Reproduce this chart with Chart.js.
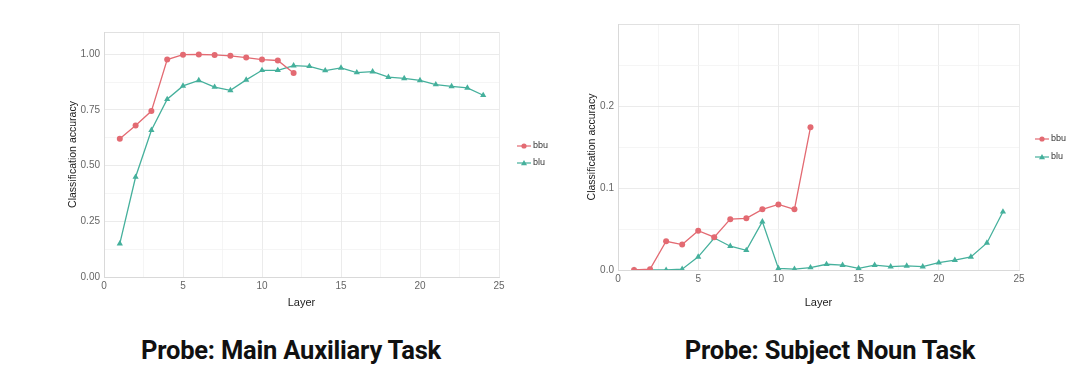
<!DOCTYPE html>
<html>
<head>
<meta charset="utf-8">
<script src="https://cdn.jsdelivr.net/npm/chart.js@4"></script>
<style>
  body { margin: 0; background: #fff; width: 1080px; height: 381px; position: relative; overflow: hidden; }
  canvas { position: absolute; top: 0; }
  .title { position: absolute; top: 335px; font: bold 25.5px/30px Roboto, "Liberation Sans", sans-serif; color: #111; white-space: nowrap; transform: translateX(-50%); letter-spacing: -0.2px; }
</style>
</head>
<body>
<div id="left" style="position:absolute;left:67px;top:0;width:493px;height:310px"><canvas id="chartA"></canvas></div>
<div id="right" style="position:absolute;left:586px;top:0;width:494px;height:310px"><canvas id="chartB"></canvas></div>
<div class="title" style="left:291px">Probe: Main Auxiliary Task</div>
<div class="title" style="left:830px">Probe: Subject Noun Task</div>
<script>
const layers = [1, 2, 3, 4, 5, 6, 7, 8, 9, 10, 11, 12, 13, 14, 15, 16, 17, 18, 19, 20, 21, 22, 23, 24];
const seriesNames = ["bbu", "blu"];
const colors = ["#e36a72", "#45b09c"];

// Main auxiliary task
const auxBbu = [0.621, 0.680, 0.745, 0.976, 0.998, 0.999, 0.997, 0.993, 0.985, 0.976, 0.972, 0.916];
const auxBlu = [0.150, 0.449, 0.659, 0.798, 0.858, 0.883, 0.853, 0.838, 0.885, 0.928, 0.928, 0.949,
                0.946, 0.927, 0.939, 0.918, 0.922, 0.897, 0.892, 0.883, 0.864, 0.856, 0.849, 0.816];

// Subject noun task
const nounBbu = [0.000, 0.001, 0.035, 0.031, 0.048, 0.040, 0.062, 0.063, 0.074, 0.080, 0.074, 0.174];
const nounBlu = [0.000, 0.000, 0.000, 0.001, 0.016, 0.039, 0.029, 0.024, 0.059, 0.002, 0.001, 0.003,
                 0.007, 0.006, 0.002, 0.006, 0.004, 0.005, 0.004, 0.009, 0.012, 0.016, 0.033, 0.071];

const xTicks = [0, 5, 10, 15, 20, 25];
const auxYTicks = [0, 0.25, 0.5, 0.75, 1.0];
const nounYTicks = [0, 0.1, 0.2];

const tickFont = { family: "'Liberation Sans', Arial, sans-serif", size: 10 };
const near = (v, list) => list.some(t => Math.abs(t - v) < 1e-6);

function pts(values) {
  return values.map((v, i) => ({ x: layers[i], y: v }));
}

const legendPlugin = {
  id: "sideLegend",
  afterDraw(chart, args, opts) {
    const ctx = chart.ctx;
    ctx.save();
    seriesNames.forEach((name, i) => {
      const y = opts.y + i * opts.gap;
      const x = opts.x;
      ctx.strokeStyle = colors[i];
      ctx.fillStyle = colors[i];
      ctx.lineWidth = 1.2;
      ctx.beginPath();
      ctx.moveTo(x, y);
      ctx.lineTo(x + 14, y);
      ctx.stroke();
      ctx.beginPath();
      if (i === 0) {
        ctx.arc(x + 7, y, 2.6, 0, Math.PI * 2);
      } else {
        ctx.moveTo(x + 7, y - 3);
        ctx.lineTo(x + 10, y + 2.2);
        ctx.lineTo(x + 4, y + 2.2);
        ctx.closePath();
      }
      ctx.fill();
      ctx.fillStyle = "#333";
      ctx.font = "9px 'Liberation Sans', Arial, sans-serif";
      ctx.textBaseline = "middle";
      ctx.fillText(name, x + 16, y);
    });
    ctx.restore();
  }
};

function makeChart(id, bbu, blu, yMax, yStep, yLabels, pad, yWidth, xHeight, legendPos) {
  const yFmt = yLabels === auxYTicks ? v => v.toFixed(2) : v => v.toFixed(1);
  new Chart(document.getElementById(id), {
    type: "line",
    data: {
      datasets: [
        {
          label: seriesNames[0], data: pts(bbu), borderColor: colors[0], backgroundColor: colors[0],
          borderWidth: 1.3, pointStyle: "circle", pointRadius: 3, pointBorderWidth: 0
        },
        {
          label: seriesNames[1], data: pts(blu), borderColor: colors[1], backgroundColor: colors[1],
          borderWidth: 1.3, pointStyle: "triangle", pointRadius: 3.6, pointBorderWidth: 0
        }
      ]
    },
    options: {
      responsive: true,
      maintainAspectRatio: false,
      animation: false,
      layout: { padding: { top: pad.top, right: pad.right, left: 0, bottom: 0 } },
      plugins: {
        legend: { display: false },
        tooltip: { enabled: false },
        sideLegend: legendPos
      },
      scales: {
        x: {
          type: "linear", min: 0, max: 25,
          border: { display: true, color: "#d9d9d9" },
          grid: {
            color: c => near(c.tick.value, xTicks) ? "#e6e6e6" : "#f3f3f3",
            lineWidth: 0.8, drawTicks: false
          },
          ticks: {
            stepSize: 2.5, autoSkip: false, maxRotation: 0, padding: 3,
            color: "#666", font: tickFont,
            callback: v => near(v, xTicks) ? String(v) : ""
          },
          title: { display: true, text: "Layer", color: "#222", font: { family: "'Liberation Sans', Arial, sans-serif", size: 11 }, padding: { top: 0, bottom: 0 } },
          afterFit: s => { s.height = xHeight; }
        },
        y: {
          type: "linear", min: 0, max: yMax,
          border: { display: true, color: "#d9d9d9" },
          grid: {
            color: c => near(c.tick.value, yLabels) ? "#e6e6e6" : (Math.abs(c.tick.value - yMax) < 1e-6 ? "#d9d9d9" : "#f3f3f3"),
            lineWidth: 0.8, drawTicks: false
          },
          ticks: {
            stepSize: yStep, autoSkip: false, padding: 4,
            color: "#666", font: tickFont,
            callback: v => near(v, yLabels) ? yFmt(v) : ""
          },
          title: { display: true, text: "Classification accuracy", color: "#222", font: { family: "'Liberation Sans', Arial, sans-serif", size: 10.5 }, padding: { top: 0, bottom: 2 } },
          afterFit: s => { s.width = yWidth; }
        }
      }
    },
    plugins: [legendPlugin]
  });
}

makeChart("chartA", auxBbu, auxBlu, 1.1, 0.125, auxYTicks,
  { top: 32, right: 61 }, 37, 33, { x: 450, y: 146, gap: 17 });
makeChart("chartB", nounBbu, nounBlu, 0.3, 0.05, nounYTicks,
  { top: 24, right: 61 }, 32, 40, { x: 449, y: 139, gap: 18 });
</script>
</body>
</html>
